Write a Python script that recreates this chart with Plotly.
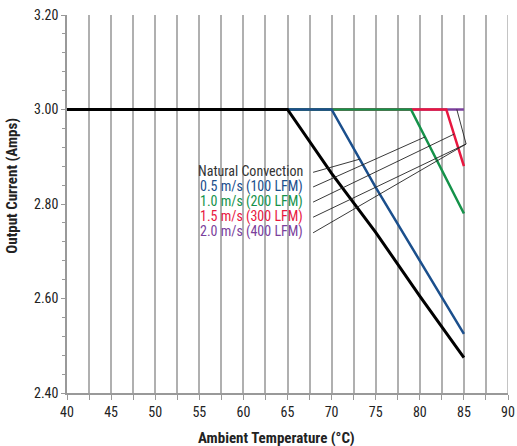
import plotly.graph_objects as go

# ---- data ----
series_names = ["Natural Convection", "0.5 m/s (100 LFM)", "1.0 m/s (200 LFM)",
                "1.5 m/s (300 LFM)", "2.0 m/s (400 LFM)"]
colors = ["#000000", "#1b4f8c", "#15924a", "#e8173f", "#7b3f9c"]
label_colors = ["#333333", "#1b4f8c", "#15924a", "#e8173f", "#7b3f9c"]

temp_nc = [40, 65, 70, 75, 80, 85]
cur_nc = [3.00, 3.00, 2.865, 2.74, 2.605, 2.475]
temp_05 = [40, 70, 75, 80, 85]
cur_05 = [3.00, 3.00, 2.835, 2.68, 2.525]
temp_10 = [40, 79, 85]
cur_10 = [3.00, 3.00, 2.78]
temp_15 = [40, 83, 85]
cur_15 = [3.00, 3.00, 2.88]
temp_20 = [40, 85]
cur_20 = [3.00, 3.00]

temps = [temp_nc, temp_05, temp_10, temp_15, temp_20]
currents = [cur_nc, cur_05, cur_10, cur_15, cur_20]
widths = [3, 2.5, 2.5, 2.5, 2.5]

# label placement (data coords) and leader line endpoints
label_x = 67.0
label_y = [2.869, 2.838, 2.806, 2.774, 2.741]
leader_x0 = 67.9
leader_end_x = [73.2, 80.6, 83.9, 85.25, 85.25]
leader_end_y = [2.895, 2.942, 2.948, 2.927, 2.927]

x_ticks = [40, 45, 50, 55, 60, 65, 70, 75, 80, 85, 90]
y_ticks = [2.40, 2.60, 2.80, 3.00, 3.20]

FONT = "Liberation Sans Narrow, Arial Narrow, Roboto Condensed, Liberation Sans, sans-serif"
GRID = "#b0b0b0"
AXIS = "#999999"

fig = go.Figure()
# draw in reverse so black ends on top
for i in reversed(range(5)):
    fig.add_trace(go.Scatter(x=temps[i], y=currents[i], mode="lines",
                             line=dict(color=colors[i], width=widths[i]),
                             name=series_names[i], showlegend=False,
                             hoverinfo="skip"))

for i in range(5):
    fig.add_annotation(x=label_x, y=label_y[i], xref="x", yref="y",
                       text=series_names[i], showarrow=False,
                       xanchor="right", yanchor="middle",
                       font=dict(family=FONT, size=14, color=label_colors[i]))
    fig.add_shape(type="line", xref="x", yref="y",
                  x0=leader_x0, y0=label_y[i] - 0.002,
                  x1=leader_end_x[i], y1=leader_end_y[i],
                  line=dict(color="#222222", width=0.9))
# bracket up to the 2.0 m/s curve
fig.add_shape(type="line", xref="x", yref="y",
              x0=85.25, y0=2.927, x1=84.2, y1=3.0,
              line=dict(color="#222222", width=0.9))
# right-edge gridline at 90
fig.add_shape(type="line", xref="x", yref="y", x0=90, x1=90, y0=2.40, y1=3.20,
              line=dict(color=GRID, width=1.5), layer="below")

# axis titles
fig.add_annotation(x=0.476, y=-0.12, xref="paper", yref="paper",
                   text="<b>Ambient Temperature (°C)</b>", showarrow=False,
                   xanchor="center", yanchor="middle",
                   font=dict(family=FONT, size=15, color="#222222"))
fig.add_annotation(x=-0.125, y=0.548, xref="paper", yref="paper",
                   text="<b>Output Current (Amps)</b>", showarrow=False, textangle=-90,
                   xanchor="center", yanchor="middle",
                   font=dict(family=FONT, size=15, color="#222222"))

fig.update_layout(
    width=517, height=446,
    margin=dict(l=67, r=9, t=15, b=53, autoexpand=False),
    paper_bgcolor="white", plot_bgcolor="white",
    font=dict(family=FONT, size=12, color="#222222"),
)
fig.update_xaxes(
    range=[40, 90], tickvals=x_ticks, ticktext=[str(v) for v in x_ticks],
    automargin=False,
    showgrid=True, gridcolor=GRID, gridwidth=1.5,
    showline=True, linecolor=AXIS, linewidth=1.5,
    ticks="outside", ticklen=5, tickcolor=AXIS,
    minor=dict(dtick=2.5, tick0=40, showgrid=True, gridcolor=GRID, gridwidth=1.5,
               ticks="outside", ticklen=5, tickcolor=AXIS),
    zeroline=False,
    tickfont=dict(family=FONT, size=14, color="#222222"),
)
fig.update_yaxes(
    range=[2.40, 3.20], tickvals=y_ticks, ticktext=["%.2f" % v for v in y_ticks],
    automargin=False,
    showgrid=False, zeroline=False,
    showline=True, linecolor=AXIS, linewidth=1.5,
    ticks="outside", ticklen=4, tickcolor=AXIS,
    minor=dict(dtick=0.04, tick0=2.40, ticks="outside", ticklen=3, tickcolor=AXIS, showgrid=False),
    tickfont=dict(family=FONT, size=14, color="#222222"),
)

fig.write_html("out.html", config={"displayModeBar": False},
               post_script="document.body.style.margin='0';document.body.style.padding='0';document.body.style.overflow='hidden';")
